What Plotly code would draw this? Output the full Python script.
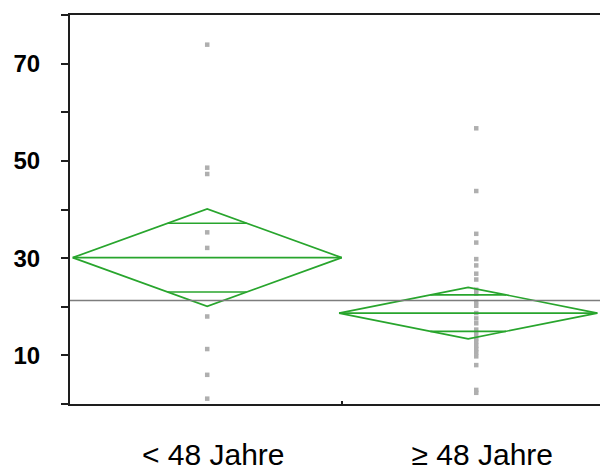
import numpy as np
import plotly.graph_objects as go

# Age groups and their positions on the x axis
groups = ["< 48 Jahre", "≥ 48 Jahre"]
group_pos = [0.0, 1.0]

# Individual observations per group
values_young = [73.9, 48.6, 47.3, 35.3, 32.1, 18.0, 11.3, 6.0, 1.1]
values_old = [56.7, 43.8, 35.0, 33.2, 29.8, 28.5, 26.8, 25.6, 23.5, 22.7,
              21.0, 20.2, 18.7, 17.6, 16.6, 15.3, 14.4, 13.5, 12.8, 12.0,
              11.3, 10.6, 9.8, 8.0, 2.9, 2.3]

# Means diamonds: group mean, 95% CI half-width, diamond centre and half-width
group_means = [30.1, 18.7]
ci_half = [10.0, 5.3]
diamond_center = [0.0, 0.97]
diamond_half = [0.5, 0.48]
grand_mean = 21.3

y_ticks = [0, 10, 20, 30, 40, 50, 60, 70, 80]
y_ticktext = ["", "10", "", "30", "", "50", "", "70", ""]

GREEN = "rgb(40,165,45)"
GRAY_PT = "rgb(175,175,175)"

fig = go.Figure()

# Grand mean reference line
fig.add_shape(type="line", xref="paper", x0=0, x1=1, yref="y",
              y0=grand_mean, y1=grand_mean,
              line=dict(color="rgb(125,125,125)", width=1.5), layer="above")

# Raw data points
for pos, vals in zip(group_pos, [values_young, values_old]):
    fig.add_trace(go.Scatter(
        x=[pos] * len(vals), y=vals, mode="markers",
        marker=dict(symbol="square", size=4.5, color=GRAY_PT, line=dict(width=0)),
        showlegend=False, hoverinfo="y"))

# Means diamonds with mean line and overlap marks
k = 1 / np.sqrt(2)
for c, hw, m, ci in zip(diamond_center, diamond_half, group_means, ci_half):
    dx = [c - hw, c, c + hw, c, c - hw]
    dy = [m, m + ci, m, m - ci, m]
    fig.add_trace(go.Scatter(x=dx, y=dy, mode="lines",
                             line=dict(color=GREEN, width=1.7),
                             showlegend=False, hoverinfo="skip"))
    fig.add_trace(go.Scatter(x=[c - hw, c + hw], y=[m, m], mode="lines",
                             line=dict(color=GREEN, width=1.7),
                             showlegend=False, hoverinfo="skip"))
    ow = hw * (1 - k)
    for sgn in (1, -1):
        yo = m + sgn * ci * k
        fig.add_trace(go.Scatter(x=[c - ow, c + ow], y=[yo, yo], mode="lines",
                                 line=dict(color=GREEN, width=1.7),
                                 showlegend=False, hoverinfo="skip"))

fig.update_layout(
    width=600, height=470,
    margin=dict(l=70, r=0, t=15, b=66),
    paper_bgcolor="white", plot_bgcolor="white",
    showlegend=False,
    xaxis=dict(
        range=[-0.51, 1.46], automargin=False,
        tickmode="array", tickvals=group_pos, ticktext=groups,
        ticks="", showgrid=False, zeroline=False,
        showline=True, linecolor="rgb(30,30,30)", linewidth=2, mirror=True,
        tickfont=dict(family="Liberation Sans, Arial, sans-serif", size=30, color="black"),
        ticklabelstandoff=23, ticklabelshift=6,
        minor=dict(tickmode="array", tickvals=[0.5], ticks="inside", ticklen=3,
                   tickcolor="rgb(30,30,30)", tickwidth=1.5, showgrid=False),
    ),
    yaxis=dict(
        range=[0, 80], automargin=False,
        tickmode="array", tickvals=y_ticks, ticktext=y_ticktext,
        ticks="outside", ticklen=7, tickwidth=2, tickcolor="rgb(30,30,30)",
        showgrid=False, zeroline=False,
        showline=True, linecolor="rgb(30,30,30)", linewidth=2,
        tickfont=dict(family="Liberation Sans, Arial, sans-serif", size=24,
                      color="black", weight="bold"),
        ticklabelstandoff=16,
    ),
)

fig.write_html("out.html")
